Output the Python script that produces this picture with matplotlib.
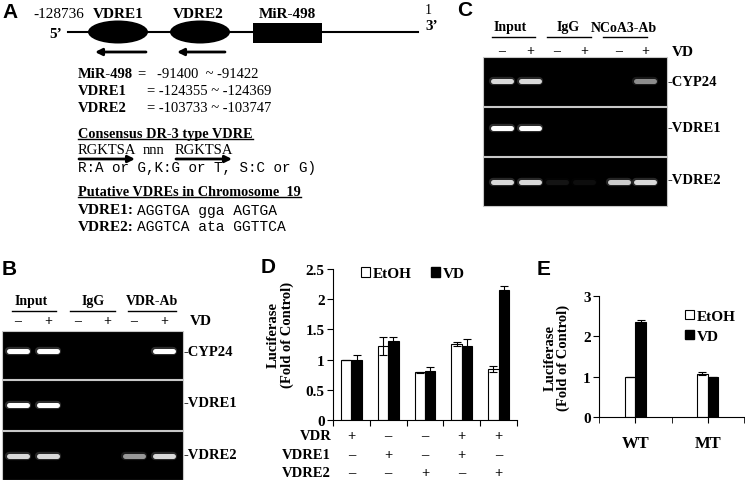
import matplotlib.pyplot as plt
import numpy as np
from matplotlib.patches import Ellipse, Rectangle, Patch

W, H = 745, 481
SERIF = 'Liberation Serif'
MONO = 'Liberation Mono'
SANS = 'Liberation Sans'

# ---- panel A text ----
site_names = ['VDRE1', 'VDRE2', 'MiR-498']
loc_names = ['MiR-498', 'VDRE1', 'VDRE2']
loc_start = [-91400, -124355, -103733]
loc_end = [-91422, -124369, -103747]
seq_names = ['VDRE1:', 'VDRE2:']
seq_vals = ['AGGTGA gga AGTGA', 'AGGTCA ata GGTTCA']

# ---- gels B / C ----
vd_signs = ['–', '+'] * 3
gel_rows = ['-CYP24', '-VDRE1', '-VDRE2']
b_groups = ['Input', 'IgG', 'VDR-Ab']
c_groups = ['Input', 'IgG', 'NCoA3-Ab']
b_bands = [[1.0, 1.0, 0, 0, 0, 1.0],
           [1.0, 1.0, 0, 0, 0, 0],
           [0.85, 0.85, 0, 0, 0.6, 0.85]]
c_bands = [[0.85, 0.85, 0, 0, 0, 0.55],
           [1.0, 1.0, 0, 0, 0, 0],
           [0.85, 0.85, 0.08, 0.05, 0.8, 0.85]]

# ---- panel D ----
d_etoh = [1.00, 1.22, 0.79, 1.26, 0.84]
d_etoh_err = [0.0, 0.15, 0.01, 0.03, 0.05]
d_vd = [0.99, 1.30, 0.81, 1.23, 2.15]
d_vd_err = [0.09, 0.07, 0.06, 0.11, 0.07]
d_rows = ['VDR', 'VDRE1', 'VDRE2']
d_signs = [['+', '–', '–', '+', '+'],
           ['–', '+', '–', '+', '–'],
           ['–', '–', '+', '–', '+']]
d_yticks = [0, 0.5, 1, 1.5, 2, 2.5]

# ---- panel E ----
e_cats = ['WT', 'MT']
e_etoh = [1.00, 1.07]
e_etoh_err = [0.0, 0.04]
e_vd = [2.36, 0.99]
e_vd_err = [0.05, 0.01]
e_yticks = [0, 1, 2, 3]


def box(l, t, r, b):
  return [l / W, 1 - b / H, (r - l) / W, (b - t) / H]


fig = plt.figure(figsize=(W / 100, H / 100), dpi=100)
bg = fig.add_axes([0, 0, 1, 1])
bg.set_xlim(0, W)
bg.set_ylim(H, 0)
bg.axis('off')

bold = dict(family=SERIF, weight='bold')
arrow_kw = dict(arrowstyle='-|>', color='k', lw=2, mutation_scale=10, shrinkA=0, shrinkB=0)

# panel letters
for lt, (x, y) in zip('ABCDE', [(10, 12), (9, 270), (465, 10), (268, 268), (544, 270)]):
  bg.text(x, y, lt, family=SANS, weight='bold', fontsize=15, ha='center', va='center')

# ---- A: schematic ----
bg.plot([68, 418], [33, 33], color='k', lw=1.5)
bg.add_patch(Ellipse((118, 33), 60, 23, fc='k'))
bg.add_patch(Ellipse((200, 33), 60, 23, fc='k'))
bg.add_patch(Rectangle((253, 24), 69, 20, fc='k'))
for x0, x1 in [(146, 95), (225, 177)]:
  bg.annotate('', xy=(x1, 53), xytext=(x0, 53), arrowprops=arrow_kw)
for name, x in zip(site_names, [118, 198, 287]):
  bg.text(x, 14, name, fontsize=11, ha='center', va='center', **bold)
bg.text(33, 14, '-128736', family=SERIF, fontsize=11, ha='left', va='center')
bg.text(62, 34, '5’', fontsize=11, ha='right', va='center', **bold)
bg.text(425, 10, '1', family=SERIF, fontsize=10, ha='left', va='center')
bg.text(425, 27, '3’', fontsize=11, ha='left', va='center', **bold)

rest_fmt = ['=   %d  ~ %d', '= %d ~ %d', '= %d ~ %d']
rest_shift = [0, 9, 9]
loc_texts = []
for i, name in enumerate(loc_names):
  y = 75 + 16.5 * i
  tn = bg.text(78, y, name, fontsize=10.5, va='center', **bold)
  tr = bg.text(140, y, rest_fmt[i] % (loc_start[i], loc_end[i]), family=SERIF, fontsize=10.5,
               ha='left', va='center')
  loc_texts.append((tn, tr))

t_cons = bg.text(78, 138, 'Consensus DR-3 type VDRE', fontsize=10.3, va='baseline', **bold)
t_rg1 = bg.text(78, 151, 'RGKTSA', family=SERIF, fontsize=10.5, va='center')
t_nnn = bg.text(142, 151, 'nnn', family=SERIF, fontsize=10.5, va='center')
bg.text(175, 151, 'RGKTSA', family=SERIF, fontsize=10.5, va='center')
for x0, x1 in [(79, 135), (176, 232)]:
  bg.annotate('', xy=(x1, 160), xytext=(x0, 160), arrowprops=arrow_kw)
bg.text(78, 168, 'R:A or G,K:G or T, S:C or G)', family=MONO, fontsize=10.3, va='center')
t_put = bg.text(78, 196, 'Putative VDREs in Chromosome  19', fontsize=10.3, va='baseline', **bold)
seq_pairs = []
for i, name in enumerate(seq_names):
  y = 211 + 16.5 * i
  tn = bg.text(78, y, name, fontsize=11, va='center', **bold)
  ts = bg.text(136, y, seq_vals[i], family=MONO, fontsize=10.5, va='center')
  seq_pairs.append((tn, ts))


# ---- gels ----
def draw_gel(left, right, row_edges, band_y, lane_x, bands, groups, grp_x, grp_line, y_grp, y_sign, label_x, label_y, vd_x):
  for r, (top, bot) in enumerate(row_edges):
    bg.add_patch(Rectangle((left, top), right - left, bot - top, fc='black', ec='#c8c8c8', lw=0.8))
    for j, v in enumerate(bands[r]):
      if v <= 0:
        continue
      g = (v, v, v)
      bg.plot([lane_x[j] - 9, lane_x[j] + 9], [band_y[r], band_y[r]], color=g, alpha=0.18,
              lw=6, solid_capstyle='round')
      bg.plot([lane_x[j] - 9, lane_x[j] + 9], [band_y[r], band_y[r]], color=g,
              lw=3.6, solid_capstyle='round')
    bg.text(label_x, label_y[r], gel_rows[r], fontsize=10.5, ha='left', va='center', **bold)
  for k, name in enumerate(groups):
    bg.text(grp_x[k], y_grp, name, fontsize=10, ha='center', va='center', **bold)
    bg.plot(grp_line[k], [y_grp + 10, y_grp + 10], color='k', lw=1)
  for j, s in enumerate(vd_signs):
    bg.text(lane_x[j], y_sign, s, fontsize=10, ha='center', va='center', **bold)
  bg.text(vd_x, y_sign, 'VD', fontsize=11, ha='left', va='center', **bold)


draw_gel(2, 183, [(332, 380), (381, 431), (432, 481)], [352, 406, 457],
         [18, 48, 78, 107, 134, 164], b_bands, b_groups, [31, 93, 152],
         [(12, 56), (70, 115), (128, 176)], 302, 322, 184, [353, 404, 456], 190)
draw_gel(483, 667, [(58, 107), (108, 157), (158, 207)], [82, 129, 183],
         [502, 530, 557, 584, 619, 645], c_bands, c_groups, [510, 568, 624],
         [(492, 535), (547, 591), (603, 647)], 28, 52, 668, [82, 128, 181], 672)

# ---- D ----
err_kw = dict(ecolor='k', elinewidth=0.8, capsize=3, capthick=0.8)
axD = fig.add_axes(box(333, 270, 517, 421))
xd = np.arange(len(d_etoh)) + 0.5
bw = 0.28
axD.bar(xd - bw / 2, d_etoh, bw, yerr=d_etoh_err, color='white', edgecolor='k', lw=0.8, error_kw=err_kw)
axD.bar(xd + bw / 2, d_vd, bw, yerr=d_vd_err, color='black', edgecolor='k', lw=0.8, error_kw=err_kw)
axD.set_xlim(0, len(d_etoh))
axD.set_ylim(0, 2.5)
axD.set_yticks(d_yticks, ['%g' % v for v in d_yticks])
axD.set_xticks(np.arange(len(d_etoh) + 1), [])
for t in axD.get_yticklabels():
  t.set_fontproperties(dict(family=SERIF, weight='bold', size=11))
axD.legend(handles=[Patch(fc='white', ec='k', lw=0.8), Patch(fc='black', ec='k')], labels=['EtOH', 'VD'],
           ncol=2, loc='center left', bbox_to_anchor=(0.11, 0.97), frameon=False, borderpad=0,
           handlelength=0.6, handleheight=0.6, handletextpad=0.15, columnspacing=1.3,
           prop=dict(family=SERIF, weight='bold', size=11))
trD = axD.get_xaxis_transform()
for i, name in enumerate(d_rows):
  yy = -(437 + 18.5 * i - 421) / 151
  axD.text(-0.05, yy, name, transform=trD, fontsize=10.5, ha='right', va='center', **bold)
  for j, s in enumerate(d_signs[i]):
    axD.text(xd[j], yy, s, transform=trD, fontsize=10.5, ha='center', va='center', **bold)
bg.text(273, 335, 'Luciferase', rotation=90, fontsize=10.5, ha='center', va='center', **bold)
bg.text(287, 335, '(Fold of Control)', rotation=90, fontsize=10.5, ha='center', va='center', **bold)

# ---- E ----
axE = fig.add_axes(box(599, 297, 744, 418))
xe = np.arange(len(e_cats)) + 0.5
be = 0.145
axE.bar(xe - be / 2, e_etoh, be, yerr=e_etoh_err, color='white', edgecolor='k', lw=0.8, error_kw=err_kw)
axE.bar(xe + be / 2, e_vd, be, yerr=e_vd_err, color='black', edgecolor='k', lw=0.8, error_kw=err_kw)
axE.set_xlim(0, len(e_cats))
axE.set_ylim(0, 3)
axE.set_yticks(e_yticks, [str(v) for v in e_yticks])
axE.set_xticks(xe, e_cats)
axE.set_xticks(np.arange(len(e_cats) + 1), minor=True)
axE.tick_params(axis='x', which='major', length=0, pad=9)
axE.tick_params(axis='x', which='minor', length=4, direction='out')
for t in axE.get_yticklabels():
  t.set_fontproperties(dict(family=SERIF, weight='bold', size=11))
for t in axE.get_xticklabels():
  t.set_fontproperties(dict(family=SERIF, weight='bold', size=12))
axE.legend(handles=[Patch(fc='white', ec='k', lw=0.8), Patch(fc='black', ec='k')], labels=['EtOH', 'VD'],
           loc='center left', bbox_to_anchor=(0.54, 0.75), frameon=False, borderpad=0,
           handlelength=0.6, handleheight=0.6, handletextpad=0.15, labelspacing=0.45,
           prop=dict(family=SERIF, weight='bold', size=11))
bg.text(550, 358, 'Luciferase', rotation=90, fontsize=10.5, ha='center', va='center', **bold)
bg.text(563, 358, '(Fold of Control)', rotation=90, fontsize=10.5, ha='center', va='center', **bold)

for ax in (axD, axE):
  ax.spines['top'].set_visible(False)
  ax.spines['right'].set_visible(False)
  ax.tick_params(axis='y', direction='out', length=4, pad=2)
  ax.tick_params(axis='x', direction='out', length=4)

# spacing that depends on the rendered text widths
fig.canvas.draw()
r = fig.canvas.get_renderer()
for t, yb in ((t_cons, 138), (t_put, 196)):
  bb = t.get_window_extent(r)
  bg.plot([bb.x0, bb.x1], [yb + 1.5, yb + 1.5], color='k', lw=1)
for tn, ts in seq_pairs:
  ts.set_x(tn.get_window_extent(r).x1 + 3)
name_end = loc_texts[0][0].get_window_extent(r).x1
for i, (tn, tr) in enumerate(loc_texts):
  tr.set_x(name_end + 5 + rest_shift[i])
t_nnn.set_x(t_rg1.get_window_extent(r).x1 + 6)

fig.savefig('out.png', dpi=100)
